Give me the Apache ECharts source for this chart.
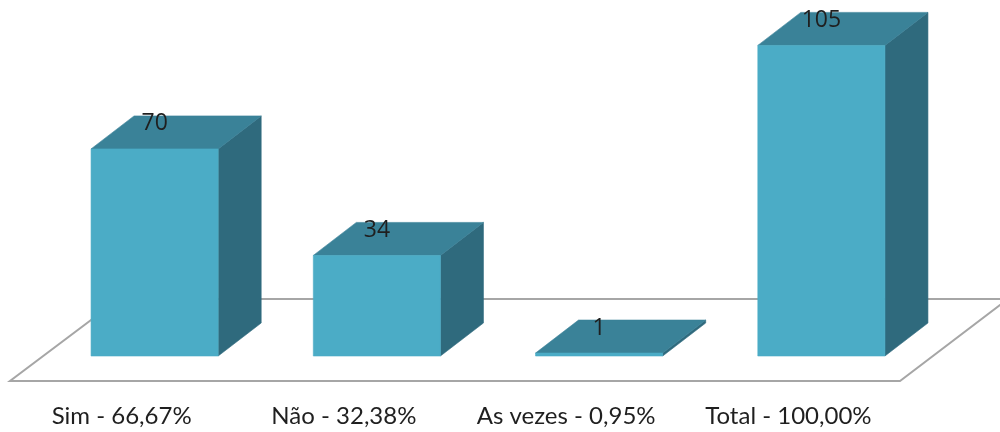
<!DOCTYPE html>
<html>
<head>
<meta charset="utf-8">
<style>html,body{margin:0;padding:0;background:#fff}#chart{width:1000px;height:432px}</style>
<script src="https://cdn.jsdelivr.net/npm/echarts@6/dist/echarts.min.js"></script>
</head>
<body>
<div id="chart"></div>
<script>
const categories = ['Sim - 66,67%', 'Não - 32,38%', 'As vezes - 0,95%', 'Total - 100,00%'];
const values = [70, 34, 1, 105];

const FRONT = '#4BACC6', TOP = '#3A8298', SIDE = '#2F6A7D', FLOOR_LINE = '#A6A6A6', INK = '#1f1f1f';
const DEPTH_X = 43, DEPTH_Y = 33;

// Extruded column: front face, top face and right side face
function renderColumn(params, api) {
  const i = api.value(0);
  const top = api.coord([i, api.value(1)]);
  const base = api.coord([i, 0]);
  const w = api.size([1, 0])[0] * 0.572;
  const x0 = top[0] - w / 2, x1 = top[0] + w / 2;
  const yT = top[1], yB = base[1];
  const poly = (points, fill) => ({
    type: 'polygon', shape: { points },
    style: { fill, stroke: fill, lineWidth: 0.6 }
  });
  return {
    type: 'group',
    children: [
      poly([[x1, yT], [x1 + DEPTH_X, yT - DEPTH_Y], [x1 + DEPTH_X, yB - DEPTH_Y], [x1, yB]], SIDE),
      poly([[x0, yT], [x0 + DEPTH_X, yT - DEPTH_Y], [x1 + DEPTH_X, yT - DEPTH_Y], [x1, yT]], TOP),
      poly([[x0, yT], [x1, yT], [x1, yB], [x0, yB]], FRONT),
      {
        type: 'text',
        style: {
          x: top[0], y: yT - 25, text: String(api.value(1)),
          align: 'center', verticalAlign: 'middle',
          font: '23px "Open Sans"', fill: INK
        }
      }
    ]
  };
}

const chart = echarts.init(document.getElementById('chart'), null, { renderer: 'canvas' });
chart.setOption({
  animation: false,
  backgroundColor: '#fff',
  grid: { left: 43.5, right: 67.5, top: 1, bottom: 76 },
  xAxis: {
    type: 'category',
    data: categories,
    axisLine: { show: false },
    axisTick: { show: false },
    axisLabel: {
      interval: 0, margin: 48, padding: [0, 66, 0, 0],
      fontFamily: 'Lato', fontSize: 24, color: INK
    }
  },
  yAxis: { type: 'value', min: 0, max: 120, show: false },
  // Perspective floor the columns stand on
  graphic: [{
    type: 'polygon', z: 0, silent: true,
    shape: { points: [[10, 381], [900, 381], [1008, 299], [119, 299]] },
    style: { fill: '#fff', stroke: FLOOR_LINE, lineWidth: 2 }
  }],
  series: [{
    type: 'custom',
    clip: false,
    z: 5,
    renderItem: renderColumn,
    encode: { x: 0, y: 1 },
    data: values.map((v, i) => [i, v])
  }]
});
</script>
</body>
</html>
